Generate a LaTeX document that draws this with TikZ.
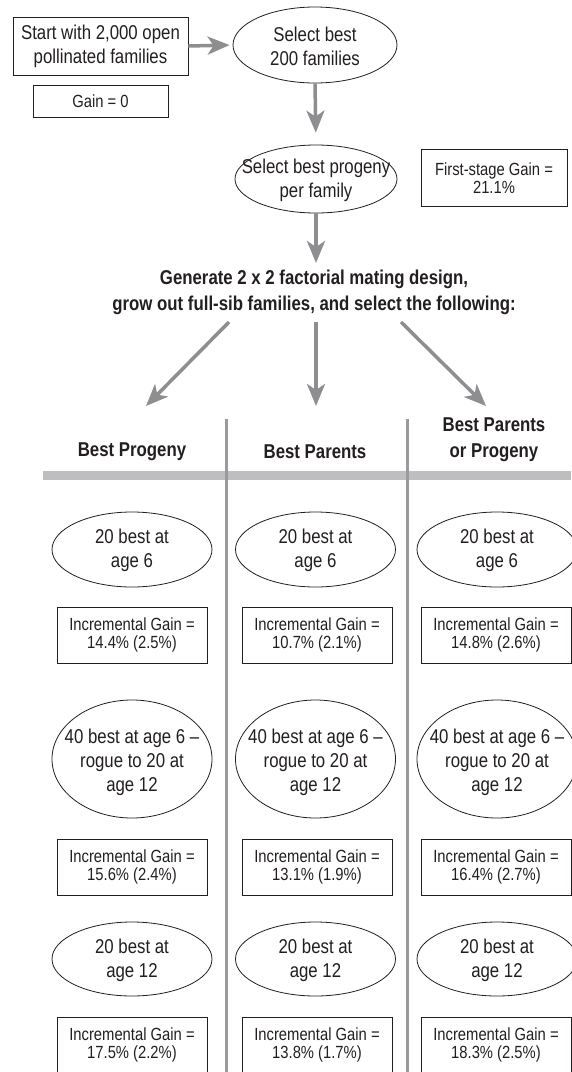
\documentclass[tikz,border=0pt]{standalone}
\usepackage{fontspec}
\setmainfont{Liberation Sans}[FakeStretch=0.84]
\usetikzlibrary{arrows.meta,shapes.geometric}
\definecolor{ink}{HTML}{231F20}
\definecolor{arr}{HTML}{8E8E90}
\definecolor{vline}{HTML}{9A9A9C}
\definecolor{barc}{HTML}{BEBEC0}
\begin{document}
\begin{tikzpicture}[x=1pt,y=-1pt,
  big/.style={font=\fontsize{20}{24}\selectfont, text=ink, align=center, inner sep=0pt},
  bighead/.style={font=\bfseries\fontsize{20}{26}\selectfont, text=ink, align=center, inner sep=0pt},
  small/.style={font=\fontsize{17.6}{18.5}\selectfont, text=ink, align=center, inner sep=0pt},
  ell/.style={draw=ink, line width=0.8pt, ellipse, inner sep=0pt},
  gbox/.style={draw=ink, line width=0.8pt, rectangle, inner sep=0pt},
  garrow/.style={draw=arr, line width=3.5pt, -{Stealth[length=22pt,width=18pt,inset=6pt]}},
  colline/.style={draw=vline, line width=3pt}]
\useasboundingbox (0,0) rectangle (571,1072);
\fill[white] (0,0) rectangle (571,1072);

% top part
\node[gbox, big, minimum width=175pt, minimum height=58pt] (start) at (100.5,46) {Start with 2,000 open\\pollinated families};
\node[gbox, small, minimum width=135pt, minimum height=32pt] (gain0) at (100.5,101) {Gain = 0};
\node[ell, minimum width=164pt, minimum height=76pt] (sel200) at (315,45) {};
\node[big] (sel200t) at (315,46) {Select best\\200 families};
\node[ell, minimum width=162pt, minimum height=68pt] (selprog) at (316,179) {};
\node[big] (selprogt) at (316,180) {Select best progeny\\per family};
\node[gbox, small, minimum width=146pt, minimum height=57pt] (first) at (494,178) {First-stage Gain =\\21.1\%};

\draw[garrow, shorten >=3pt] (start.east) -- (sel200.west);
\draw[garrow, shorten >=12pt] (sel200.south) -- (selprog.north);
\coordinate (headtop) at (316,263);
\draw[garrow] (selprog.south) -- (headtop);

\node[bighead] (heading) at (314,292) {Generate 2 x 2 factorial mating design,\\grow out full-sib families, and select the following:};

\coordinate (a1s) at (229,322); \coordinate (a1e) at (146,406);
\coordinate (a2s) at (316,322); \coordinate (a2e) at (316,406);
\coordinate (a3s) at (401,322); \coordinate (a3e) at (486,406);
\draw[garrow] (a1s) -- (a1e);
\draw[garrow] (a2s) -- (a2e);
\draw[garrow] (a3s) -- (a3e);

% header bar and column lines
\fill[barc] (43,471) rectangle (571,480);
\coordinate (v1t) at (226,419); \coordinate (v1b) at (226,1072);
\coordinate (v2t) at (407,419); \coordinate (v2b) at (407,1072);
\draw[colline] (v1t) -- (v1b);
\draw[colline] (v2t) -- (v2b);

\node[bighead] (h1) at (132,452) {Best Progeny};
\node[bighead] (h2) at (315,452) {Best Parents};
\node[bighead] (h3) at (494,440) {Best Parents\\or Progeny};

% columns
\foreach \c/\x/\bx/\ga/\gb/\gc in {1/132/132/14.4\% (2.5\%)/15.6\% (2.4\%)/17.5\% (2.2\%),
                                   2/315.5/317/10.7\% (2.1\%)/13.1\% (1.9\%)/13.8\% (1.7\%),
                                   3/497/496/14.8\% (2.6\%)/16.4\% (2.7\%)/18.3\% (2.5\%)} {
  \node[ell, minimum width=160pt, minimum height=75pt] (r1e\c) at (\x,549.5) {};
  \node[big] (r1t\c) at (\x,550) {20 best at\\age 6};
  \node[gbox, small, minimum width=150pt, minimum height=56pt] (r1b\c) at (\bx,635) {Incremental Gain =\\\ga};
  \node[ell, minimum width=160pt, minimum height=118pt] (r2e\c) at (\x,759) {};
  \node[big] (r2t\c) at (\x,762) {40 best at age 6 –\\rogue to 20 at\\age 12};
  \node[gbox, small, minimum width=150pt, minimum height=56pt] (r2b\c) at (\bx,867) {Incremental Gain =\\\gb};
  \node[ell, minimum width=160pt, minimum height=74pt] (r3e\c) at (\x,959) {};
  \node[big] (r3t\c) at (\x,960) {20 best at\\age 12};
  \node[gbox, small, minimum width=150pt, minimum height=56pt] (r3b\c) at (\bx,1045) {Incremental Gain =\\\gc};
}
\end{tikzpicture}
\end{document}
